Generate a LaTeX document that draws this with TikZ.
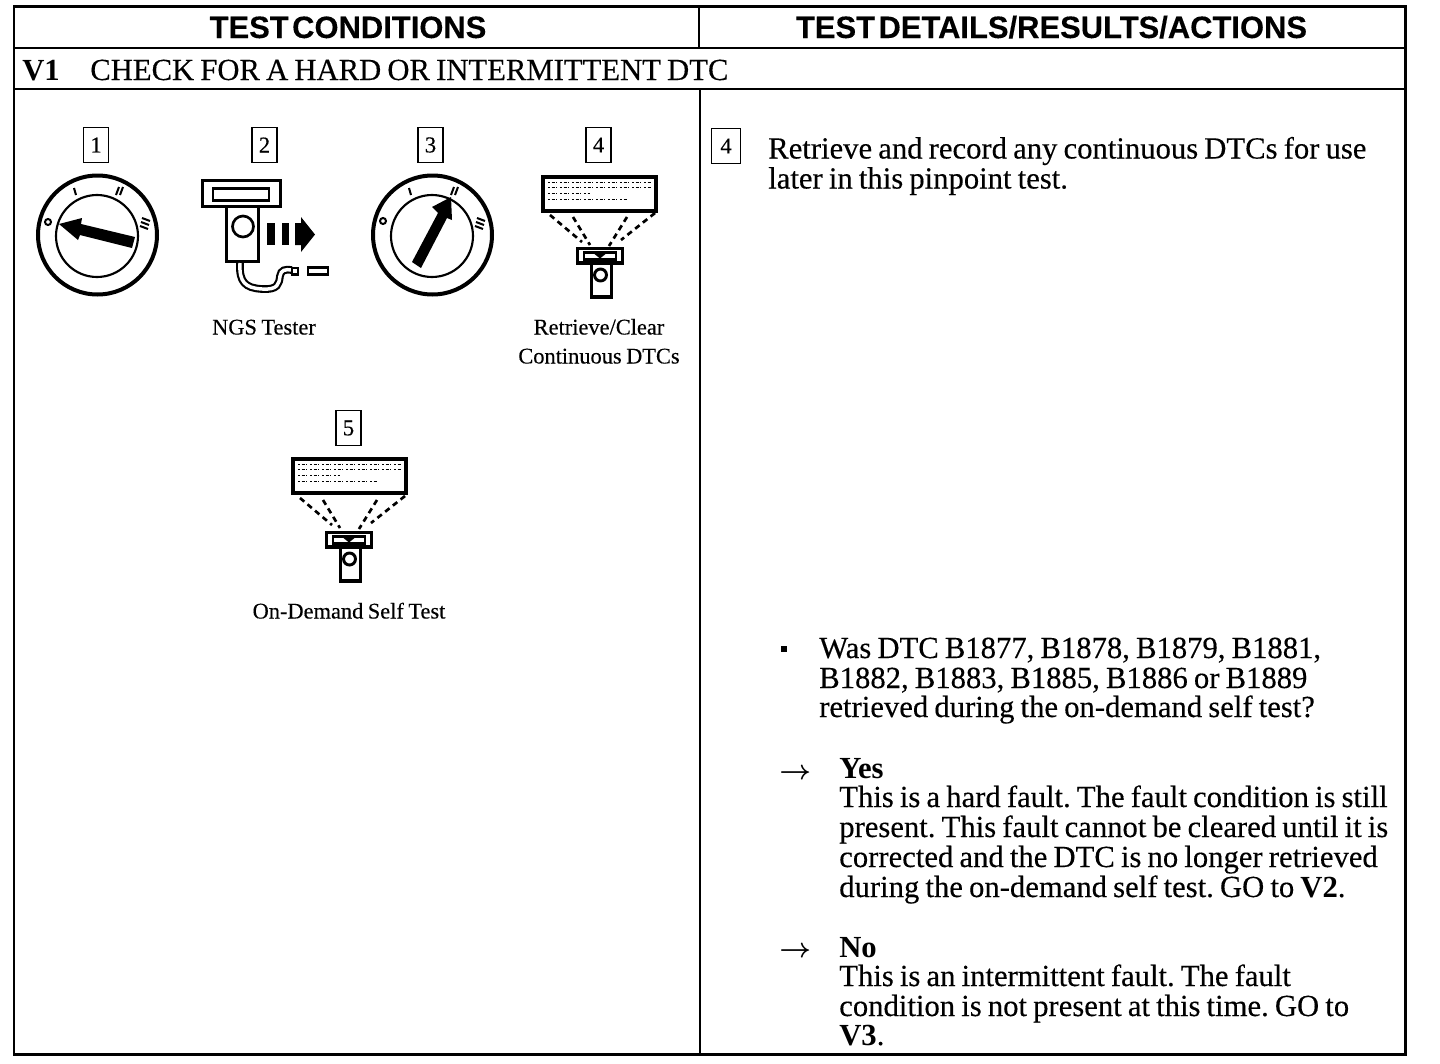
\documentclass[tikz,border=0pt]{standalone}
\usepackage{fontspec}
\setmainfont[WordSpace=0.8,FakeBold=0.3,BoldFeatures={FakeBold=0}]{Liberation Serif}
\newfontfamily\headfont[WordSpace=0.4,BoldFeatures={FakeBold=0.2}]{Liberation Sans}
\newcommand{\bodyfont}{\frenchspacing\fontsize{23}{24}\selectfont}
\newcommand{\labfont}{\frenchspacing\fontsize{16.8}{18}\selectfont}
\tikzset{
  rulestyle/.style={line width=1.7pt,draw=black},
  headstyle/.style={inner sep=0,anchor=base,font=\headfont\bfseries\fontsize{23.2}{25}\selectfont},
  bodystyle/.style={inner sep=0,anchor=base west,font=\bodyfont},
  capstyle/.style={inner sep=0,anchor=base,font=\labfont},
  arrowstyle/.style={inner sep=0,anchor=base west,font=\fontsize{20}{22}\selectfont\boldmath},
  numbox/.style={draw=black,line width=1.2pt,inner sep=0,minimum width=18.5pt,minimum height=26pt,font=\fontsize{17}{18}\selectfont},
  keyline/.style={draw=black,line width=3pt},
  keyin/.style={draw=black,line width=1.6pt},
  tickstyle/.style={draw=black,line width=1.5pt},
  toolline/.style={draw=black,line width=2.3pt},
  raystyle/.style={draw=black,line width=2pt,dash pattern=on 4.2pt off 3.2pt},
  tinyrow/.style={draw=black,line width=.7pt,dash pattern=on 1.2pt off 1.6pt on 2.2pt off 1.2pt on .8pt off 2pt},
}
\newcommand{\scantool}[2]{%
  \begin{scope}[shift={(#1,#2)}]
    \draw[toolline] (577.5,248.5) rectangle (622.5,263);
    \draw[draw=black,line width=1.7pt] (584,252.5) rectangle (616,259.5);
    \fill (592,252) -- (608,252) -- (600,258.5) -- cycle;
    \draw[toolline] (591.5,263) -- (591.5,297) -- (611.5,297) -- (611.5,263);
    \draw[draw=black,line width=2.2pt] (600.5,275) circle[radius=6];
  \end{scope}}
\newcommand{\screenpart}[2]{%
  \begin{scope}[shift={(#1,#2)}]
    \draw[draw=black,line width=3pt] (543,177) rectangle (655.5,210.5);
    \draw[tinyrow] (548,182) -- (652,182);
    \draw[tinyrow] (548,187) -- (652,187);
    \draw[tinyrow] (548,193) -- (590,193);
    \draw[tinyrow] (548,199) -- (628,199);
  \end{scope}}
\newcommand{\rayspart}[2]{%
  \begin{scope}[shift={(#1,#2)}]
    \draw[raystyle] (550,215) -- (582,242);
    \draw[raystyle] (573,217) -- (590,245);
    \draw[raystyle] (627,217) -- (609,246);
    \draw[raystyle] (655,213) -- (621,240);
  \end{scope}}
\begin{document}
\begin{tikzpicture}[x=0.75pt,y=-0.75pt]
\useasboundingbox (0,0) rectangle (1440,1064);
\fill[white] (0,0) rectangle (1440,1064);
% table
\draw[rulestyle] (14,6.5) rectangle (1405.5,1054.5);
\draw[rulestyle] (14,48) -- (1405.5,48);
\draw[rulestyle] (14,89) -- (1405.5,89);
\draw[rulestyle] (699,6.5) -- (699,48);
\draw[rulestyle] (700,89) -- (700,1054.5);
\node[headstyle] (h1) at (348,38) {TEST CONDITIONS};
\node[headstyle] (h2) at (1051.5,38) {TEST DETAILS/RESULTS/ACTIONS};
\node[bodystyle] (v1) at (22,80) {\textbf{V1}};
\node[bodystyle] (v1t) at (90,80) {CHECK FOR A HARD OR INTERMITTENT DTC};
% numbered boxes
\node[numbox] (n1) at (96,145) {\raisebox{-2pt}{1}};
\node[numbox] (n2) at (264.5,145) {\raisebox{-2pt}{2}};
\node[numbox] (n3) at (430.5,145) {\raisebox{-2pt}{3}};
\node[numbox] (n4) at (598.5,145) {\raisebox{-2pt}{4}};
\node[numbox] (n5) at (348.5,428) {\raisebox{-2pt}{5}};
\node[numbox,minimum width=21.5pt] (n6) at (726,146) {4};
% key 1
\draw[keyline] (97.5,235) circle[radius=59.5];
\draw[keyin] (97,236) circle[radius=41];
\draw[tickstyle] (48,222) circle[radius=3];
\draw[tickstyle] (74,188) -- (76,195);
\draw[tickstyle] (116,195) -- (119,187);
\draw[tickstyle] (120,195) -- (123,187);
\draw[tickstyle] (142,218) -- (150,221);
\draw[tickstyle] (141,222) -- (149,225);
\draw[tickstyle] (140,226) -- (148,229);
\fill (59,224) -- (82,218) -- (81,224) -- (135,237) -- (132,248) -- (80,235) -- (78,240) -- cycle;
% key 3
\draw[keyline] (432.5,235) circle[radius=59.5];
\draw[keyin] (432,236) circle[radius=41];
\draw[tickstyle] (383,221) circle[radius=3];
\draw[tickstyle] (409,188) -- (411,195);
\draw[tickstyle] (451,195) -- (454,187);
\draw[tickstyle] (455,195) -- (458,187);
\draw[tickstyle] (477,218) -- (485,221);
\draw[tickstyle] (476,222) -- (484,225);
\draw[tickstyle] (475,226) -- (483,229);
\fill (451,197) -- (452,220) -- (447,218) -- (421,268) -- (412,262) -- (438,213) -- (432,207) -- cycle;
% tester
\draw[toolline] (202.5,180.5) rectangle (280.5,206.5);
\draw[draw=black,line width=2pt] (213,188.5) rectangle (269,200.5);
\draw[toolline] (226.5,206.5) -- (226.5,261.5) -- (258.5,261.5) -- (258.5,206.5);
\draw[draw=black,line width=2pt] (243,226.5) circle[radius=10.5];
\fill (267,223) rectangle (275,245);
\fill (282,223) rectangle (289,245);
\fill (295,223) -- (301,223) -- (301,217) -- (315,234.5) -- (301,252) -- (301,245) -- (295,245) -- cycle;
\draw[draw=black,line width=1.6pt,double=white,double distance=2.6pt] (240,263) .. controls (239,282) and (245,288) .. (262,289) .. controls (278,290) and (279,284) .. (280,276) .. controls (281,270) and (285,269) .. (292,270);
\draw[draw=black,line width=2pt,fill=white] (292,268) rectangle (298,274.5);
\draw[draw=black,line width=2pt] (308,267.5) rectangle (328,274.5);
\node[capstyle] (c2) at (264,334.5) {NGS Tester};
% icon 4
\rayspart{0}{0}
\screenpart{0}{0}
\scantool{0}{0}
\node[capstyle] (c4a) at (599,334.5) {Retrieve/Clear};
\node[capstyle] (c4b) at (599,363.5) {Continuous DTCs};
% icon 5
\rayspart{-250}{283}
\screenpart{-250}{282}
\scantool{-251}{284}
\node[capstyle] (c5) at (349,618.5) {On-Demand Self Test};
% right column
\node[bodystyle] (r1) at (768,158.5) {Retrieve and record any continuous DTCs for use};
\node[bodystyle] (r2) at (768,188.5) {later in this pinpoint test.};
\fill (780.5,646) rectangle (786.5,652);
\node[bodystyle] (q1) at (819,658) {Was DTC B1877, B1878, B1879, B1881,};
\node[bodystyle] (q2) at (819,688) {B1882, B1883, B1885, B1886 or B1889};
\node[bodystyle] (q3) at (819,717) {retrieved during the on-demand self test?};
\node[arrowstyle] (a1) at (779,779) {$\rightarrow$};
\node[bodystyle] (y0) at (839,778) {\textbf{Yes}};
\node[bodystyle] (y1) at (839,807) {This is a hard fault. The fault condition is still};
\node[bodystyle] (y2) at (839,837) {present. This fault cannot be cleared until it is};
\node[bodystyle] (y3) at (839,867) {corrected and the DTC is no longer retrieved};
\node[bodystyle] (y4) at (839,897) {during the on-demand self test. GO to \textbf{V2}.};
\node[arrowstyle] (a2) at (779,957) {$\rightarrow$};
\node[bodystyle] (n0) at (839,957) {\textbf{No}};
\node[bodystyle] (n1l) at (839,986) {This is an intermittent fault. The fault};
\node[bodystyle] (n2l) at (839,1016) {condition is not present at this time. GO to};
\node[bodystyle] (n3l) at (839,1045) {\textbf{V3}.};
\end{tikzpicture}
\end{document}
